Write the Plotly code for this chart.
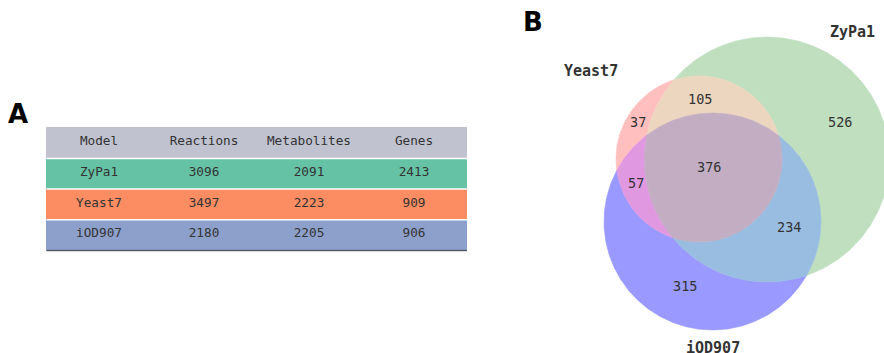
import numpy as np
import plotly.graph_objects as go

# ---- Panel A: model statistics ----
columns = ["Model", "Reactions", "Metabolites", "Genes"]
models = ["ZyPa1", "Yeast7", "iOD907"]
reactions = [3096, 3497, 2180]
metabolites = [2091, 2223, 2205]
genes = [2413, 909, 906]
row_colors = ["#66c2a5", "#fc8d62", "#8da0cb"]
header_color = "#c0c2d0"

# ---- Panel B: reaction overlap between the three models ----
set_keys = ["Z", "Y", "I"]
set_labels = ["ZyPa1", "Yeast7", "iOD907"]
region_keys = ["Z", "Y", "I", "ZY", "YI", "ZI", "ZYI"]
region_counts = [526, 37, 315, 105, 57, 234, 376]
region_colors = ["#bfdfbf", "#ffbfbf", "#9999ff", "#ecd6bf", "#e099e0", "#99bde0", "#c2adc2"]

W, H = 884, 353

# circle geometry (page pixels, y downwards)
circles = {"Z": (767.0, 159.5, 122.5), "Y": (699.0, 159.0, 83.0), "I": (712.5, 221.5, 108.5)}
set_label_pos = {"Z": (852, 32), "Y": (591, 71), "I": (712.5, 348)}
count_pos = {"Z": (839.5, 122), "Y": (638, 122), "I": (684.5, 286), "ZY": (700, 98.5),
             "YI": (636, 182.5), "ZI": (789, 227), "ZYI": (708.5, 167)}


def intersections(c1, c2):
    x1, y1, r1 = c1
    x2, y2, r2 = c2
    d = np.hypot(x2 - x1, y2 - y1)
    a = (r1 ** 2 - r2 ** 2 + d ** 2) / (2 * d)
    h = np.sqrt(max(r1 ** 2 - a ** 2, 0.0))
    xm = x1 + a * (x2 - x1) / d
    ym = y1 + a * (y2 - y1) / d
    return [(xm + h * (y2 - y1) / d, ym - h * (x2 - x1) / d),
            (xm - h * (y2 - y1) / d, ym + h * (x2 - x1) / d)]


def inside(p, c):
    return np.hypot(p[0] - c[0], p[1] - c[1]) < c[2]


# split every circle into arcs at the intersection points
arcs = []  # (circle key, a0, a1, frozenset of other circles containing the arc)
for k in set_keys:
    cx, cy, r = circles[k]
    angs = []
    for o in set_keys:
        if o == k:
            continue
        for px, py in intersections(circles[k], circles[o]):
            angs.append(np.arctan2(py - cy, px - cx) % (2 * np.pi))
    angs.sort()
    for j in range(len(angs)):
        a0 = angs[j]
        a1 = angs[(j + 1) % len(angs)]
        if a1 <= a0:
            a1 += 2 * np.pi
        am = 0.5 * (a0 + a1)
        mid = (cx + r * np.cos(am), cy + r * np.sin(am))
        memb = frozenset(o for o in set_keys if o != k and inside(mid, circles[o]))
        arcs.append((k, a0, a1, memb))


def arc_points(k, a0, a1):
    cx, cy, r = circles[k]
    n = max(12, int(abs(a1 - a0) * 80))
    t = np.linspace(a0, a1, n)
    return list(zip(cx + r * np.cos(t), cy + r * np.sin(t)))


def region_outline(key):
    R = frozenset(key)
    segs = []
    for k, a0, a1, memb in arcs:
        if k in R and memb == R - {k}:
            segs.append(arc_points(k, a0, a1))
        elif k not in R and memb == R:
            segs.append(arc_points(k, a1, a0))
    poly = segs.pop(0)
    while segs:
        lx, ly = poly[-1]
        j = min(range(len(segs)), key=lambda i: np.hypot(segs[i][0][0] - lx, segs[i][0][1] - ly))
        poly += segs.pop(j)
    xs, ys = zip(*poly)
    return list(xs) + [xs[0]], list(ys) + [ys[0]]


fig = go.Figure()

for key, col in zip(region_keys, region_colors):
    xs, ys = region_outline(key)
    fig.add_trace(go.Scatter(x=xs, y=ys, mode="lines", fill="toself", fillcolor=col,
                             line=dict(color=col, width=0.6), hoverinfo="skip", showlegend=False))

mono = "DejaVu Sans Mono"
for key, n in zip(region_keys, region_counts):
    x, y = count_pos[key]
    fig.add_annotation(x=x, y=y, text=str(n), showarrow=False,
                       font=dict(family=mono, size=13.5, color="#333333"))
for key, lab in zip(set_keys, set_labels):
    x, y = set_label_pos[key]
    fig.add_annotation(x=x, y=y, text="<b>" + lab + "</b>", showarrow=False,
                       font=dict(family=mono, size=15, color="#333333"))

for lab, (x, y) in [("A", (18, 114)), ("B", (533, 22))]:
    fig.add_annotation(x=x, y=y, text="<b>" + lab + "</b>", showarrow=False,
                       font=dict(family="DejaVu Sans", size=26, color="#000000"))

# table
t_left, t_right, t_top, t_bottom = 46.5, 467.0, 127.5, 251.0
cell_fill = [row_colors] * len(columns)
fig.add_trace(go.Table(
    domain=dict(x=[t_left / W, t_right / W], y=[1 - t_bottom / H, 1 - t_top / H]),
    columnwidth=[1, 1, 1, 1],
    header=dict(values=columns, fill_color=header_color, height=31,
                line=dict(color=header_color, width=1), align="center",
                font=dict(family=mono, size=12.7, color="#333333")),
    cells=dict(values=[models, reactions, metabolites, genes], fill_color=cell_fill, height=30.7,
               line=dict(color=cell_fill, width=1), align="center",
               font=dict(family=mono, size=12.7, color="#333333")),
))

# row separators and bottom rule
for yy in [158.4, 189.1, 219.8]:
    fig.add_shape(type="line", x0=t_left, x1=t_right, y0=yy, y1=yy, xref="x", yref="y",
                  line=dict(color="white", width=1.5), layer="above")
fig.add_shape(type="line", x0=t_left, x1=t_right, y0=250.6, y1=250.6, xref="x", yref="y",
              line=dict(color="#555b6b", width=1.5), layer="above")

fig.update_xaxes(range=[0, W], visible=False, showgrid=False, zeroline=False)
fig.update_yaxes(range=[H, 0], visible=False, showgrid=False, zeroline=False)
fig.update_layout(width=W, height=H, margin=dict(l=0, r=0, t=0, b=0),
                  paper_bgcolor="white", plot_bgcolor="white", showlegend=False)

fig.write_html("out.html")
